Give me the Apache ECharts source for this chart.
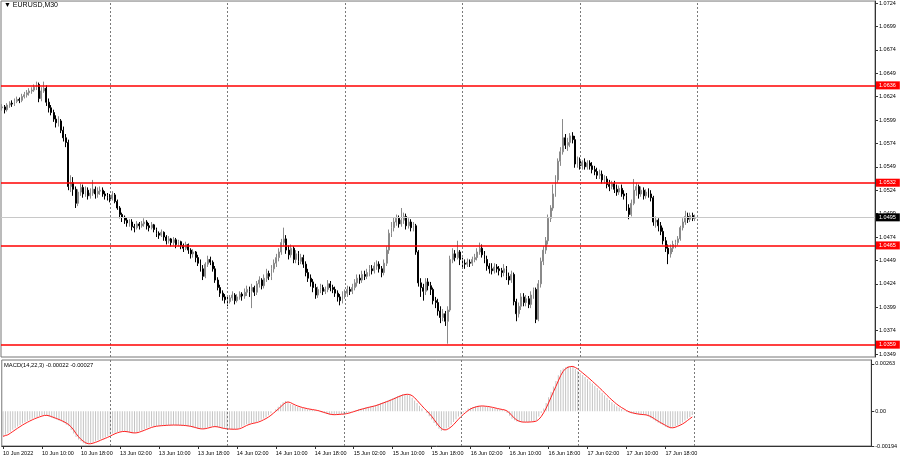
<!DOCTYPE html>
<html><head><meta charset="utf-8">
<script src="https://cdn.jsdelivr.net/npm/echarts@6/dist/echarts.min.js"></script>
<style>html,body{margin:0;padding:0;background:#fff}#c{width:900px;height:460px}</style>
</head><body><div id="c"></div>
<script>
// prices are in pips above 1.0000 (615 = 1.0615); each bar opens at the previous close
const firstOpen = 612;
const closePips = [
613,610,615,617,616,619,621,620,624,626,
628,630,631,634,637,622,630,633,618,612,
607,600,596,598,588,580,575,528,532,525,
510,522,527,520,524,518,521,525,520,523,
524,520,518,516,515,519,512,505,498,495,
492,489,490,485,484,488,486,488,490,486,
484,487,482,478,476,479,474,470,472,468,
471,466,469,465,462,466,460,456,458,452,
446,440,432,445,450,447,440,428,420,414,
410,407,405,409,412,406,410,413,411,415,
418,416,420,415,424,428,422,430,435,432,
440,446,452,458,468,472,460,455,462,450,
456,448,452,445,436,430,426,420,412,418,
420,416,418,424,420,418,414,410,406,412,
414,418,416,420,425,430,428,434,432,436,
440,438,443,445,440,436,446,460,478,484,
490,494,488,492,496,486,490,484,486,458,
425,420,416,426,422,418,406,404,395,388,
392,384,396,450,456,452,458,450,446,445,
447,446,450,452,458,462,455,450,443,440,
438,442,440,438,436,440,432,428,434,405,
392,400,410,404,408,402,412,418,386,424,
448,460,470,494,505,520,535,555,565,580,
572,575,582,578,552,555,550,554,549,553,
550,546,544,540,541,535,536,530,528,531,
525,522,526,520,518,505,498,510,524,528,
520,524,518,522,520,516,490,492,486,480,
470,462,456,462,466,468,472,484,490,496,
493,497,494,495];
const highPips = [
616,615,617,619,620,622,624,623,627,629,
631,633,634,637,640,639,634,640,636,622,
615,610,604,603,600,592,584,578,540,538,
528,525,531,530,528,527,526,535,528,527,
528,527,523,521,520,523,521,514,507,500,
497,495,493,493,488,491,490,491,494,492,
489,490,488,484,480,482,480,476,475,473,
474,473,471,470,467,469,467,462,461,459,
455,450,444,447,454,453,449,443,431,423,
417,413,410,412,416,414,413,416,415,419,
422,421,424,422,427,432,430,434,440,438,
444,450,456,462,472,484,476,465,466,464,
460,459,456,455,448,440,434,429,424,421,
424,423,421,428,427,423,421,417,413,416,
418,422,421,424,429,434,434,438,438,440,
444,444,447,449,448,443,450,464,482,490,
495,498,497,505,500,499,494,493,490,488,
460,430,424,430,430,426,420,410,408,400,
397,395,400,454,462,460,470,460,452,450,
451,450,453,456,462,468,466,459,454,446,
446,446,445,443,441,445,443,436,438,436,
408,404,414,414,412,411,416,420,420,428,
452,464,474,498,508,530,540,558,570,600,
584,580,585,586,582,560,559,556,558,556,
556,554,550,548,546,545,540,539,535,534,
534,530,529,530,524,521,509,514,536,532,
530,528,527,525,526,524,518,496,494,490,
484,474,466,466,470,471,475,486,494,502,
500,500,500,498];
const lowPips = [
609,606,608,612,613,614,617,617,618,622,
623,625,627,629,631,618,619,628,614,607,
604,597,591,592,585,576,570,524,522,518,
505,507,518,516,517,514,515,518,515,516,
519,517,514,513,511,513,510,503,494,490,
488,485,485,481,479,482,482,484,485,482,
480,482,479,474,472,474,470,466,467,464,
465,462,464,461,458,460,456,451,452,447,
443,437,428,430,442,444,437,425,417,410,
406,403,400,403,406,402,404,407,406,408,
411,410,398,411,412,420,418,419,426,428,
428,436,442,448,455,464,456,450,452,446,
446,444,445,441,432,426,421,415,408,409,
414,412,413,415,416,414,410,405,401,403,
408,410,412,413,417,421,424,425,428,429,
432,434,435,439,436,431,433,443,456,474,
480,486,484,485,488,482,483,480,480,455,
421,410,406,412,417,412,402,398,390,382,
384,379,360,394,446,448,450,444,441,440,
442,442,443,447,449,455,452,446,438,435,
434,435,436,433,431,432,428,423,425,401,
384,388,396,400,400,398,398,408,382,384,
420,444,456,466,490,502,517,532,550,562,
568,566,570,574,548,548,546,546,546,546,
546,542,540,536,536,531,531,526,523,525,
521,518,519,517,514,502,493,496,508,518,
515,517,514,515,516,512,486,484,480,476,
466,458,445,452,458,462,465,470,481,487,
489,490,491,491];
// MACD main in units of 0.00001
const macdMain = [
-140,-132,-123,-114,-104,-95,-86,-77,-69,-62,
-55,-48,-42,-37,-32,-27,-23,-22,-25,-31,
-36,-41,-46,-52,-58,-66,-75,-84,-105,-125,
-144,-158,-168,-178,-184,-182,-178,-174,-169,-162,
-156,-152,-146,-139,-132,-125,-120,-116,-113,-112,
-114,-117,-120,-123,-121,-117,-112,-107,-101,-96,
-90,-86,-84,-82,-81,-80,-79,-78,-78,-77,
-77,-78,-78,-79,-80,-82,-84,-87,-91,-95,
-99,-100,-98,-95,-91,-87,-84,-87,-90,-94,
-97,-99,-100,-100,-101,-101,-100,-94,-87,-80,
-73,-70,-67,-64,-61,-55,-48,-41,-34,-23,
-12,0,11,24,37,50,56,48,40,34,
29,24,20,17,14,11,9,7,5,1,
-3,-8,-12,-16,-20,-20,-19,-18,-17,-16,
-15,-11,-7,-3,2,6,10,14,17,21,
24,27,30,35,40,45,50,55,60,66,
72,78,84,89,94,95,93,90,75,60,
45,30,15,0,-10,-28,-47,-66,-83,-98,
-110,-104,-97,-90,-75,-60,-45,-30,-18,-7,
4,15,19,23,27,30,29,28,26,25,
21,18,15,12,9,7,5,-10,-25,-42,
-50,-58,-61,-61,-61,-61,-60,-58,-57,-50,
-30,-10,15,45,78,108,138,168,200,229,
237,245,252,249,246,235,224,213,202,190,
179,166,154,141,129,116,102,88,75,62,
50,39,28,20,12,4,-5,-8,-11,-14,
-17,-18,-19,-21,-22,-30,-39,-47,-56,-64,
-71,-79,-87,-93,-95,-90,-84,-78,-73,-63,
-52,-42,-32,-22];
const levels = [1.0636, 1.0532, 1.0465, 1.0359];
const bidPrice = 1.0495;
const priceTicks = [1.0349,1.0374,1.0399,1.0424,1.0449,1.0474,1.0499,1.0524,1.0549,1.0574,1.0599,1.0624,1.0649,1.0674,1.0699,1.0724];
const macdTicks = [0.00263, 0, -0.00194];
const timeLabels = ["10 Jun 2022","10 Jun 10:00","10 Jun 18:00","13 Jun 02:00","13 Jun 10:00","13 Jun 18:00","14 Jun 02:00","14 Jun 10:00","14 Jun 18:00","15 Jun 02:00","15 Jun 10:00","15 Jun 18:00","16 Jun 02:00","16 Jun 10:00","16 Jun 18:00","17 Jun 02:00","17 Jun 10:00","17 Jun 18:00"];
const sessions = [["10 Jun",2,44],["13 Jun",0,48],["14 Jun",0,48],["15 Jun",0,48],["16 Jun",0,48],["17 Jun",0,48],["18 Jun",0,73]];
const dayStarts = [44, 92, 140, 188, 236, 284];

const FONT = "'Liberation Sans', Arial, sans-serif";
const FS = 5.5;
const P = v => 1 + v / 10000;
const cats = [];
sessions.forEach(([d, h, n]) => { for (let k = 0; k < n; k++) { const m = h * 60 + 30 * k; cats.push(d + ' ' + String(Math.floor(m / 60)).padStart(2, '0') + ':' + String(m % 60).padStart(2, '0')); } });
const candles = closePips.map((c, i) => {
  const o = i === 0 ? firstOpen : closePips[i - 1];
  return [P(o), P(c), P(lowPips[i]), P(highPips[i])];
});
const macd = macdMain.map(v => v / 100000);
const signal = macd.map((v, i) => { const a = macd.slice(Math.max(0, i - 2), i + 1); return a.reduce((s, x) => s + x, 0) / a.length; });

const gridV = dayStarts.map(ix => ({ xAxis: ix, lineStyle: { color: '#7a7a7a', type: [2, 2], width: 1 }, label: { show: false } }));
const lvlLabel = (bg) => ({ show: true, position: 'end', distance: 1, formatter: p => Number(p.value).toFixed(4), color: '#fff', backgroundColor: bg, fontSize: FS, fontFamily: FONT, padding: [1, 4, 1, 3] });

const chart = echarts.init(document.getElementById('c'), null, { renderer: 'canvas' });
chart.setOption({
  animation: false,
  backgroundColor: '#fff',
  grid: [
    { left: 1, right: 25, top: 0, height: 357, show: true, borderColor: '#777', borderWidth: 1 },
    { left: 1, right: 25, top: 360, height: 86, show: true, borderColor: '#777', borderWidth: 1 }
  ],
  xAxis: [
    { type: 'category', gridIndex: 0, data: cats, boundaryGap: true, axisLine: { show: false }, axisTick: { show: false }, axisLabel: { show: false }, splitLine: { show: false } },
    { type: 'category', gridIndex: 1, data: cats, boundaryGap: true,
      axisLine: { show: true, onZero: false, lineStyle: { color: '#333' } },
      axisTick: { show: true, alignWithLabel: true, length: 3, lineStyle: { color: '#333' }, interval: i => i % 16 === 0 && i / 16 < timeLabels.length },
      axisLabel: { show: true, interval: i => i % 16 === 0 && i / 16 < timeLabels.length, formatter: (v, i) => timeLabels[i / 16] || '', align: 'left', margin: 4, fontSize: FS, fontFamily: FONT, color: '#000' },
      splitLine: { show: false } }
  ],
  yAxis: [
    { type: 'value', gridIndex: 0, position: 'right', min: 1.03458, max: 1.07261, scale: true,
      axisLine: { show: true, lineStyle: { color: '#333' } },
      axisTick: { show: true, length: 3, customValues: priceTicks, lineStyle: { color: '#333' } },
      axisLabel: { show: true, customValues: priceTicks, formatter: v => v.toFixed(4), margin: 4, fontSize: FS, fontFamily: FONT, color: '#000' },
      splitLine: { show: false } },
    { type: 'value', gridIndex: 1, position: 'right', min: -0.00194, max: 0.00285,
      axisLine: { show: true, lineStyle: { color: '#333' } },
      axisTick: { show: true, length: 3, customValues: macdTicks, lineStyle: { color: '#333' } },
      axisLabel: { show: true, customValues: macdTicks, formatter: v => v === 0 ? '0.00' : v.toFixed(5), margin: 4, fontSize: FS, fontFamily: FONT, color: '#000' },
      splitLine: { show: false } }
  ],
  series: [
    { type: 'candlestick', xAxisIndex: 0, yAxisIndex: 0, data: candles, barWidth: 1.4,
      itemStyle: { color: '#9a9a9a', color0: '#000', borderColor: '#8a8a8a', borderColor0: '#000', borderWidth: 1 },
      markLine: { symbol: 'none', silent: true, animation: false, precision: 5, z: 10,
        data: [
          ...gridV,
          { yAxis: bidPrice, lineStyle: { color: '#c8c8c8', width: 1, type: 'solid' }, label: lvlLabel('#000') },
          ...levels.map(v => ({ yAxis: v, lineStyle: { color: '#ff0000', width: 1.6, type: 'solid' }, label: lvlLabel('#ff0000') }))
        ] } },
    { type: 'bar', xAxisIndex: 1, yAxisIndex: 1, data: macd, barWidth: 1, itemStyle: { color: '#c4c4c4' },
      markLine: { symbol: 'none', silent: true, animation: false, data: gridV } },
    { type: 'line', xAxisIndex: 1, yAxisIndex: 1, data: signal, symbol: 'none', lineStyle: { color: '#ff2020', width: 1 } }
  ],
  graphic: [
    { type: 'text', left: 4, top: 2, style: { text: '▼ EURUSD,M30', fontSize: 7, fontFamily: FONT, fill: '#000' } },
    { type: 'text', left: 4, top: 362, style: { text: 'MACD(14,22,3) -0.00022 -0.00027', fontSize: 5.8, fontFamily: FONT, fill: '#000' } }
  ]
});
</script></body></html>
